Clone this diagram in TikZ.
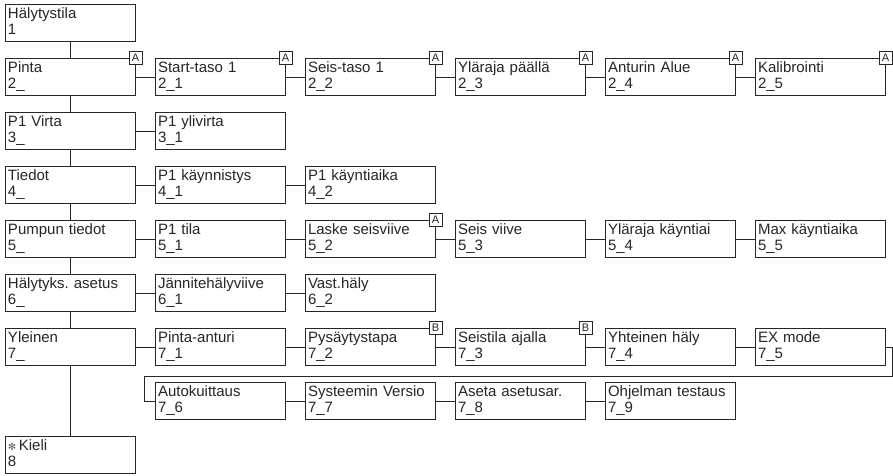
\documentclass[tikz,border=0pt]{standalone}
\usepackage{fontspec}
\setmainfont{Liberation Sans}
\newfontfamily\symfont{DejaVu Sans}
\usetikzlibrary{positioning}
\frenchspacing
\tikzstyle{menu} = [draw=black!85, line width=1pt, fill=white, text=black!85, minimum width=130pt, minimum height=37pt, text width=124pt, inner xsep=3pt, inner ysep=1pt, align=left, font=\fontsize{15}{16}\selectfont, execute at begin node=\strut, execute at end node=\strut]
\tikzstyle{tag} = [draw=black!85, line width=0.9pt, fill=white, text=black!85, minimum size=13pt, inner sep=0pt, font=\fontsize{11}{11}\selectfont]
\tikzstyle{line} = [draw=black!85, line width=1pt]

\begin{document}
\begin{tikzpicture}[x=1pt, y=1pt, node distance=16pt and 19pt]
    \useasboundingbox (0,0) rectangle (893,-475);

    \node[menu] (hal) at (70,-23) {Hälytystila\\1};
    \node[menu, below=of hal] (pinta) {Pinta\\2\_};
    \node[menu, below=of pinta] (virta) {P1 Virta\\3\_};
    \node[menu, below=of virta] (tiedot) {Tiedot\\4\_};
    \node[menu, below=of tiedot] (pumppu) {Pumpun tiedot\\5\_};
    \node[menu, below=of pumppu] (halyt) {Hälytyks. asetus\\6\_};
    \node[menu, below=of halyt] (yleinen) {Yleinen\\7\_};
    \node[menu, below=70pt of yleinen] (kieli) {{\symfont\fontsize{10}{10}\selectfont\textcolor{black!65}{✻}}\,Kieli\\8};

    % Pinta
    \node[menu, right=of pinta] (s21) {Start-taso 1\\2\_1};
    \node[menu, right=of s21] (s22) {Seis-taso 1\\2\_2};
    \node[menu, right=of s22] (s23) {Yläraja päällä\\2\_3};
    \node[menu, right=of s23] (s24) {Anturin Alue\\2\_4};
    \node[menu, right=of s24] (s25) {Kalibrointi\\2\_5};

    % P1 Virta, Tiedot
    \node[menu, right=of virta] (s31) {P1 ylivirta\\3\_1};
    \node[menu, right=of tiedot] (s41) {P1 käynnistys\\4\_1};
    \node[menu, right=of s41] (s42) {P1 käyntiaika\\4\_2};

    % Pumpun tiedot
    \node[menu, right=of pumppu] (s51) {P1 tila\\5\_1};
    \node[menu, right=of s51] (s52) {Laske seisviive\\5\_2};
    \node[menu, right=of s52] (s53) {Seis viive\\5\_3};
    \node[menu, right=of s53] (s54) {Yläraja käyntiai\\5\_4};
    \node[menu, right=of s54] (s55) {Max käyntiaika\\5\_5};

    % Halytykset
    \node[menu, right=of halyt] (s61) {Jännitehälyviive\\6\_1};
    \node[menu, right=of s61] (s62) {Vast.häly\\6\_2};

    % Yleinen
    \node[menu, right=of yleinen] (s71) {Pinta-anturi\\7\_1};
    \node[menu, right=of s71] (s72) {Pysäytystapa\\7\_2};
    \node[menu, right=of s72] (s73) {Seistila ajalla\\7\_3};
    \node[menu, right=of s73] (s74) {Yhteinen häly\\7\_4};
    \node[menu, right=of s74] (s75) {EX mode\\7\_5};
    \node[menu, below=of s71] (s76) {Autokuittaus\\7\_6};
    \node[menu, right=of s76] (s77) {Systeemin Versio\\7\_7};
    \node[menu, right=of s77] (s78) {Aseta asetusar.\\7\_8};
    \node[menu, right=of s78] (s79) {Ohjelman testaus\\7\_9};

    % Tags
    \node[tag] (tpinta) at (pinta.north east) {A};
    \node[tag] (t21) at (s21.north east) {A};
    \node[tag] (t22) at (s22.north east) {A};
    \node[tag] (t23) at (s23.north east) {A};
    \node[tag] (t24) at (s24.north east) {A};
    \node[tag] (t25) at (s25.north east) {A};
    \node[tag] (t52) at (s52.north east) {A};
    \node[tag] (t72) at (s72.north east) {B};
    \node[tag] (t73) at (s73.north east) {B};

    % Edges
    \draw[line] (hal) -- (pinta);
    \draw[line] (pinta) -- (virta);
    \draw[line] (virta) -- (tiedot);
    \draw[line] (tiedot) -- (pumppu);
    \draw[line] (pumppu) -- (halyt);
    \draw[line] (halyt) -- (yleinen);
    \draw[line] (yleinen) -- (kieli);

    \draw[line] (pinta) -- (s21);
    \draw[line] (s21) -- (s22);
    \draw[line] (s22) -- (s23);
    \draw[line] (s23) -- (s24);
    \draw[line] (s24) -- (s25);
    \draw[line] (virta) -- (s31);
    \draw[line] (tiedot) -- (s41);
    \draw[line] (s41) -- (s42);
    \draw[line] (pumppu) -- (s51);
    \draw[line] (s51) -- (s52);
    \draw[line] (s52) -- (s53);
    \draw[line] (s53) -- (s54);
    \draw[line] (s54) -- (s55);
    \draw[line] (halyt) -- (s61);
    \draw[line] (s61) -- (s62);
    \draw[line] (yleinen) -- (s71);
    \draw[line] (s71) -- (s72);
    \draw[line] (s72) -- (s73);
    \draw[line] (s73) -- (s74);
    \draw[line] (s74) -- (s75);
    \draw[line] (s75.east) -- ++(7,0) |- ([xshift=-10pt,yshift=6pt]s76.north west) |- (s76.west);
    \draw[line] (s76) -- (s77);
    \draw[line] (s77) -- (s78);
    \draw[line] (s78) -- (s79);
\end{tikzpicture}
\end{document}
